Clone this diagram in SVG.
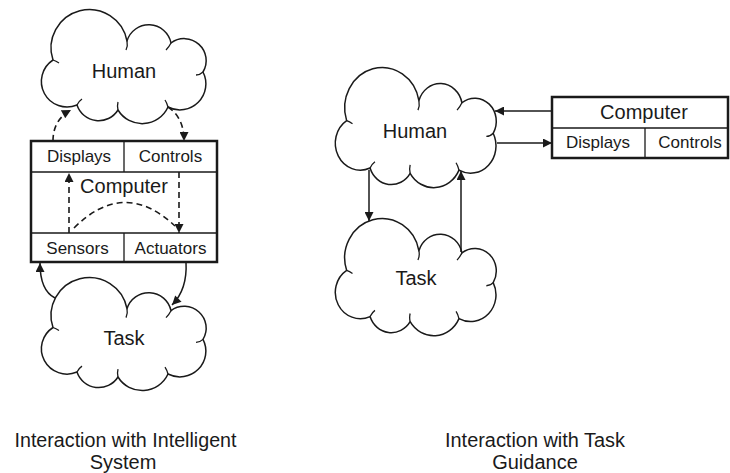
<svg xmlns="http://www.w3.org/2000/svg" xmlns:xlink="http://www.w3.org/1999/xlink" width="730" height="473" viewBox="0 0 730 473">
  <style>
    .cloud { fill: #fff; stroke: #1a1a1a; stroke-width: 1.5; vector-effect: non-scaling-stroke; stroke-linejoin: round; }
    .tick { fill: none; stroke: #1a1a1a; stroke-width: 1.3; vector-effect: non-scaling-stroke; }
    .box { fill: #fff; stroke: #1a1a1a; stroke-width: 2.5; }
    .div { stroke: #1a1a1a; stroke-width: 1.3; fill: none; }
    .lbl { font-family: "Liberation Sans", Arial, sans-serif; fill: #1a1a1a; text-anchor: middle; }
    .big { font-size: 20px; }
    .small { font-size: 17px; }
    .cap { font-size: 20px; }
    .solid { fill: none; stroke: #1a1a1a; stroke-width: 1.5; }
    .dash { fill: none; stroke: #1a1a1a; stroke-width: 1.6; stroke-dasharray: 6 4; }
  </style>
  <defs>
    <marker id="ah" viewBox="0 0 10 10" refX="10" refY="5" markerWidth="10" markerHeight="9" markerUnits="userSpaceOnUse" orient="auto">
      <path d="M0,0 L10,5 L0,10 z" fill="#1a1a1a"/>
    </marker>
    <g id="cloudShape">
      <path class="cloud" d="M16,50 A38.3,38.3 0 1 1 90,31 A22.7,22.7 0 0 1 134,33 A22,22 0 0 1 166,62 A26,26 0 0 1 131,97 A28.3,28.3 0 0 1 81,100 A22.8,22.8 0 0 1 40,95 A25.6,25.6 0 0 1 16,50 Z"/>
      <path class="tick" d="M90,31 q1,5 -1,9 M134,33 q-2,4 -5,7 M166,62 q-3,3 -7,3 M131,97 q-1,-4 -3,-7 M81,100 q-1,-4 0,-8 M40,95 q2,-4 5,-6 M16,50 q3,1 6,3"/>
    </g>
  </defs>

  <!-- Left diagram -->
  <g id="human-left">
    <use xlink:href="#cloudShape" transform="translate(37,10)"/>
    <text class="lbl big" x="124" y="78">Human</text>
  </g>

  <g id="computer-left">
    <rect class="box" x="31" y="141" width="186" height="121"/>
    <path class="div" d="M31,172 H217 M31,233 H217 M124,141 V172 M124,233 V262"/>
    <text class="lbl small" x="79" y="162">Displays</text>
    <text class="lbl small" x="170.5" y="162">Controls</text>
    <text class="lbl big" x="124" y="193">Computer</text>
    <text class="lbl small" x="77.5" y="254">Sensors</text>
    <text class="lbl small" x="170.5" y="254">Actuators</text>
  </g>

  <g id="task-left">
    <use xlink:href="#cloudShape" transform="translate(37,278) scale(1,0.99)"/>
    <text class="lbl big" x="124" y="345">Task</text>
  </g>

  <!-- Right diagram -->
  <g id="human-right">
    <use xlink:href="#cloudShape" transform="translate(331,68) scale(0.977,1.053)"/>
    <text class="lbl big" x="415" y="138">Human</text>
  </g>

  <g id="computer-right">
    <rect class="box" x="552" y="97" width="176" height="61"/>
    <path class="div" d="M552,128 H728 M645,128 V158"/>
    <text class="lbl big" x="644" y="119">Computer</text>
    <text class="lbl small" x="598" y="148">Displays</text>
    <text class="lbl small" x="690" y="148">Controls</text>
  </g>

  <g id="task-right">
    <use xlink:href="#cloudShape" transform="translate(331,219) scale(0.977,1.027)"/>
    <text class="lbl big" x="416" y="285">Task</text>
  </g>

  <!-- Connectors -->
  <g id="connectors">
    <path class="dash" d="M53,141 C53,128 58,117 71,110" marker-end="url(#ah)"/>
    <path class="dash" d="M168,107 C177,113 184,123 184,141" marker-end="url(#ah)"/>
    <path class="dash" d="M69,233 V173" marker-end="url(#ah)"/>
    <path class="dash" d="M179,172 V233" marker-end="url(#ah)"/>
    <path class="dash" d="M74,228 Q124,178 175,226"/>
    <path class="solid" d="M55,298 C45,293 40,282 40,263" marker-end="url(#ah)"/>
    <path class="solid" d="M186,262 C187,280 183,294 172,305" marker-end="url(#ah)"/>

    <path class="solid" d="M552,111 H495" marker-end="url(#ah)"/>
    <path class="solid" d="M497,143 H552" marker-end="url(#ah)"/>
    <path class="solid" d="M369,170 V221" marker-end="url(#ah)"/>
    <path class="solid" d="M461,252 V171" marker-end="url(#ah)"/>
  </g>

  <g id="captions">
    <text class="lbl cap" x="125.5" y="447" textLength="222" lengthAdjust="spacingAndGlyphs">Interaction with Intelligent</text>
    <text class="lbl cap" x="123" y="469">System</text>
    <text class="lbl cap" x="535" y="447" textLength="180" lengthAdjust="spacingAndGlyphs">Interaction with Task</text>
    <text class="lbl cap" x="535" y="469">Guidance</text>
  </g>
</svg>
